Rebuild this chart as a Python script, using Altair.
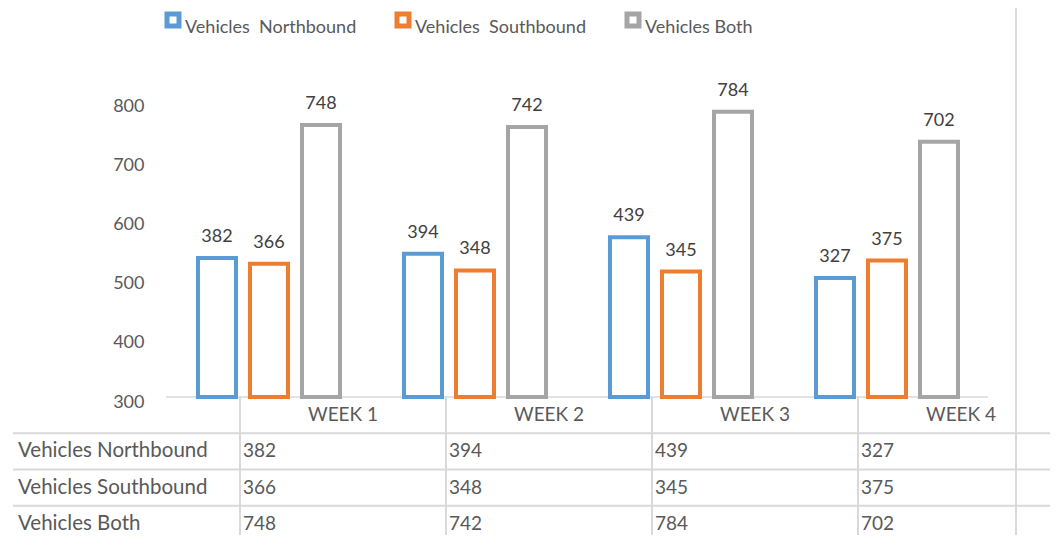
import altair as alt
import pandas as pd

weeks = ["WEEK 1", "WEEK 2", "WEEK 3", "WEEK 4"]
series = ["Vehicles Northbound", "Vehicles Southbound", "Vehicles Both"]
legend_names = ["Vehicles\u00a0 Northbound", "Vehicles\u00a0 Southbound", "Vehicles Both"]
northbound = [382, 394, 439, 327]
southbound = [366, 348, 345, 375]
both = [748, 742, 784, 702]
colors = ["#5B9BD5", "#ED7D31", "#A5A5A5"]
axis_ticks = [300, 400, 500, 600, 700, 800]

FONT = "Lato"
GRAY_TXT = "#595959"
GRID = "#D9D9D9"

rows = []
for si, (s, vals) in enumerate(zip(series, [northbound, southbound, both])):
    for wi, (w, v) in enumerate(zip(weeks, vals)):
        rows.append(dict(week=w, series=s, value=v, col=wi, row=si + 1.5))
df = pd.DataFrame(rows)

color_scale = alt.Scale(domain=series, range=colors)
bar_y = alt.Scale(domain=[0, 800], nice=False, zero=True)
tx = alt.Scale(domain=[0, 4], range=[74, 898], nice=False, zero=False)
ty = alt.Scale(domain=[0, 4], range=[291, 436], nice=False, zero=False)


def bar_enc():
    return dict(
        x=alt.X("week:N", sort=weeks, scale=alt.Scale(paddingInner=0, paddingOuter=0), axis=None),
        xOffset=alt.XOffset("series:N", sort=series,
                            scale=alt.Scale(paddingInner=0.269, paddingOuter=0.615)),
        y=alt.Y("value:Q", scale=bar_y, axis=None),
    )


bars = alt.Chart(df).mark_bar(fill="white", strokeWidth=4).encode(
    stroke=alt.Stroke("series:N", scale=color_scale, legend=None), **bar_enc()
)
labels = alt.Chart(df).mark_text(
    dy=-16, baseline="alphabetic", fontSize=18, color="#404040", font=FONT
).encode(text="value:Q", **bar_enc())

baseline = alt.Chart(pd.DataFrame({"v": [0]})).mark_rule(color=GRID, strokeWidth=1.5).encode(
    y=alt.Y("v:Q", scale=bar_y, axis=None), x=alt.value(0), x2=alt.value(822)
)

yaxis = alt.Chart(pd.DataFrame({"t": axis_ticks})).mark_tick(opacity=0).encode(
    y=alt.Y("t:Q",
            scale=alt.Scale(domain=[300, 800], range=[296, 0], nice=False, zero=False),
            axis=alt.Axis(orient="left", values=axis_ticks, domain=False, ticks=False,
                          grid=False, labelPadding=22, labelFontSize=18,
                          labelColor=GRAY_TXT, labelFont=FONT, title=None))
)

# data table below the plot
week_df = pd.DataFrame({"week": weeks, "col": [i + 0.5 for i in range(len(weeks))], "row": 0.5})
week_labels = alt.Chart(week_df).mark_text(
    fontSize=19, color=GRAY_TXT, font=FONT, align="center", baseline="middle"
).encode(x=alt.X("col:Q", scale=tx, axis=None), y=alt.Y("row:Q", scale=ty, axis=None), text="week:N")

cells = alt.Chart(df).mark_text(
    fontSize=19, color=GRAY_TXT, font=FONT, align="left", baseline="middle", dx=3
).encode(x=alt.X("col:Q", scale=tx, axis=None), y=alt.Y("row:Q", scale=ty, axis=None), text="value:Q")

row_df = pd.DataFrame({"series": series, "row": [1.5, 2.5, 3.5]})
row_labels = alt.Chart(row_df).mark_text(
    fontSize=20.5, color=GRAY_TXT, font=FONT, align="left", baseline="middle"
).encode(x=alt.value(-148), y=alt.Y("row:Q", scale=ty, axis=None), text="series:N")

hlines = alt.Chart(pd.DataFrame({"row": [1, 2, 3, 4]})).mark_rule(color=GRID, strokeWidth=2).encode(
    y=alt.Y("row:Q", scale=ty, axis=None), x=alt.value(-153), x2=alt.value(884)
)
vlines = alt.Chart(pd.DataFrame({"col": [0, 1, 2, 3], "r0": 0, "r1": 4})).mark_rule(
    color=GRID, strokeWidth=2
).encode(x=alt.X("col:Q", scale=tx, axis=None), y=alt.Y("r0:Q", scale=ty, axis=None), y2="r1:Q")

right_line = alt.Chart(pd.DataFrame({"a": [0]})).mark_rule(color=GRID, strokeWidth=2).encode(
    x=alt.value(850), y=alt.value(-106), y2=alt.value(436)
)

# legend
leg_df = pd.DataFrame({"series": series, "name": legend_names, "idx": [0, 1, 2]})
leg_x = alt.Scale(domain=[0, 2], range=[7, 467], nice=False, zero=False)
leg_sym = alt.Chart(leg_df).mark_square(fill="white", size=144, strokeWidth=5, opacity=1).encode(
    x=alt.X("idx:Q", scale=leg_x, axis=None), y=alt.value(-86),
    stroke=alt.Stroke("series:N", scale=color_scale, legend=None)
)
leg_txt = alt.Chart(leg_df).mark_text(
    fontSize=18, color=GRAY_TXT, font=FONT, align="left", baseline="alphabetic", dx=12
).encode(x=alt.X("idx:Q", scale=leg_x, axis=None), y=alt.value(-73), text="name:N")

chart = alt.layer(
    right_line, hlines, vlines, baseline, yaxis, bars, labels,
    week_labels, cells, row_labels, leg_sym, leg_txt
).resolve_scale(
    x="independent", y="independent"
).properties(
    width=824, height=291,
    background="white",
    autosize=alt.AutoSizeParams(type="none"),
    padding={"left": 158, "top": 98, "right": 60, "bottom": 138},
).configure_view(stroke=None)

chart.save("out.html", embed_options={"renderer": "svg", "actions": False})
